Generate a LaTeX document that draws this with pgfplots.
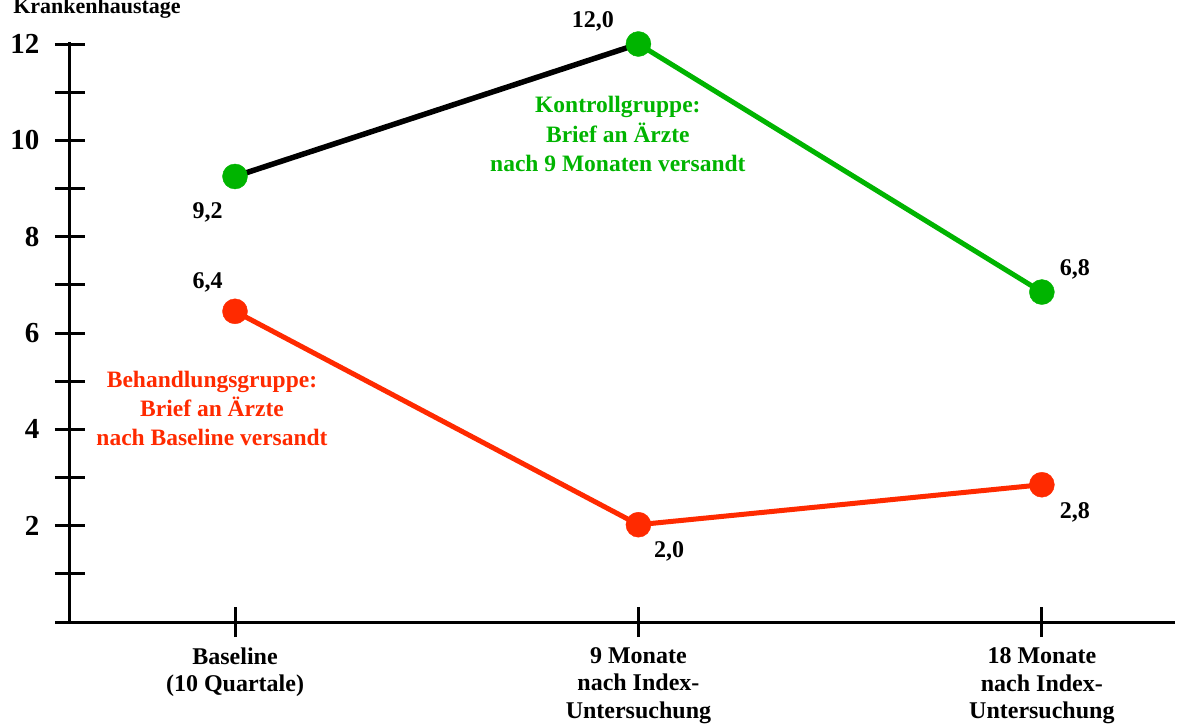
\documentclass[border=0pt]{standalone}
\usepackage{fontspec}
\setmainfont{Liberation Serif}
\usepackage{pgfplots}
\pgfplotsset{compat=1.18}
\definecolor{cgreen}{RGB}{0,180,0}
\definecolor{cred}{RGB}{255,42,0}
\begin{document}
\begin{tikzpicture}
\useasboundingbox (0pt,0pt) rectangle (1191pt,724pt);
\begin{axis}[
  at={(70pt,102pt)}, anchor=south west,
  width=1105pt, height=580.4pt, scale only axis,
  xmin=-0.409, xmax=2.33, ymin=0, ymax=12.05,
  axis x line=bottom, axis y line=left,
  axis line style={-, line width=3pt},
  xtick={0,1,2},
  xticklabels={Baseline\\(10 Quartale),9 Monate\\nach Index-\\Untersuchung,18 Monate\\nach Index-\\Untersuchung},
  ytick={1,2,3,4,5,6,7,8,9,10,11,12},
  yticklabels={,2,,4,,6,,8,,10,,12},
  tick align=center,
  major tick length=30pt,
  tick style={line width=3pt, black},
  /pgf/number format/assume math mode=true,
  yticklabel style={font=\fontsize{29}{29}\selectfont\bfseries, xshift=-12pt},
  xticklabel style={font=\fontsize{24}{27.5}\selectfont\bfseries, align=center, yshift=-7pt},
  clip=false,
]
\addplot[black, line width=5.5pt] coordinates {(0,9.25) (1,12.0)};
\addplot[cgreen, line width=5pt] coordinates {(1,12.0) (2,6.85)};
\addplot[cred, line width=5pt] coordinates {(0,6.45) (1,2.02) (2,2.85)};
\addplot[only marks, mark=*, mark size=12.5pt, color=cgreen] coordinates {(0,9.25) (1,12.0) (2,6.85)};
\addplot[only marks, mark=*, mark size=12.5pt, color=cred] coordinates {(0,6.45) (1,2.02) (2,2.85)};
\draw[line width=3pt] (axis cs:-0.446,0) -- (axis cs:-0.409,0);
\begin{scope}[every node/.style={font=\fontsize{24}{24}\selectfont\bfseries, anchor=base}]
\node at (axis cs:-0.068,8.387) {9,2};
\node at (axis cs:-0.068,6.934) {6,4};
\node at (axis cs:0.887,12.352) {12,0};
\node at (axis cs:2.082,7.204) {6,8};
\node at (axis cs:2.082,2.159) {2,8};
\node at (axis cs:1.076,1.349) {2,0};
\end{scope}
\node[font=\fontsize{23.5}{29.5}\selectfont\bfseries, text=cgreen, align=center] at (axis cs:0.949,10.13) {Kontrollgruppe:\\Brief an Ärzte\\nach 9 Monaten versandt};
\node[font=\fontsize{23.5}{29}\selectfont\bfseries, text=cred, align=center] at (axis cs:-0.057,4.44) {Behandlungsgruppe:\\Brief an Ärzte\\nach Baseline versandt};
\node[font=\fontsize{22}{22}\selectfont\bfseries, anchor=base] at (axis cs:-0.342,12.64) {Krankenhaustage};
\end{axis}
\end{tikzpicture}
\end{document}
